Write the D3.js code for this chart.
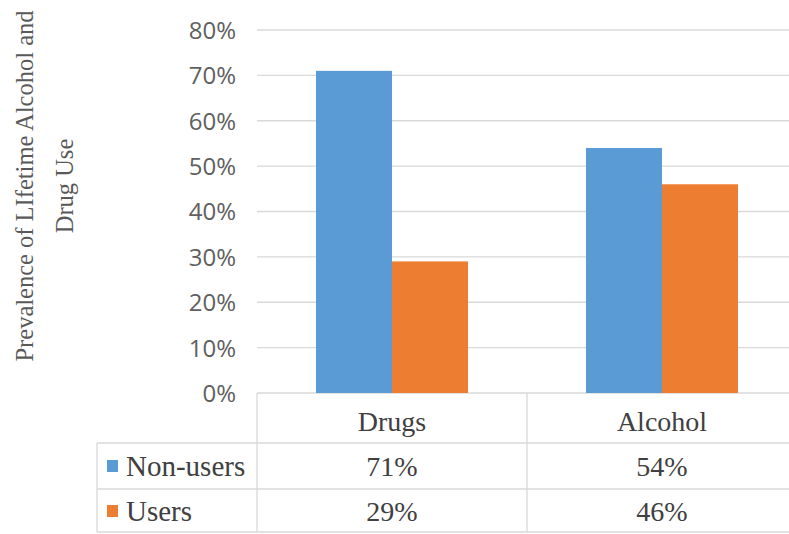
<!DOCTYPE html>
<html><head><meta charset="utf-8">
<script src="https://cdn.jsdelivr.net/npm/d3@7"></script>
<style>body{margin:0;background:#fff;}svg{display:block;}
text.serif{font-family:"Liberation Serif","Times New Roman",serif;}
text.sans{font-family:"Open Sans",sans-serif;}
</style>
</head><body>
<svg id="c" width="789" height="534"></svg>
<script>
const categories = ["Drugs", "Alcohol"];
const seriesNames = ["Non-users", "Users"];
const nonUsers = [71, 54];
const users = [29, 46];
const yTicks = [0, 10, 20, 30, 40, 50, 60, 70, 80];
const yTitle = ["Prevalence of LIfetime Alcohol and", "Drug Use"];
const colors = ["#5b9bd5", "#ed7d31"];
const series = [nonUsers, users];

(function () {
const svg = d3.select("#c");
const pLeft = 257, pRight = 797, pTop = 30, pBottom = 393;
const x0 = d3.scaleBand().domain(categories).range([pLeft, pRight]).padding(0);
const x1 = d3.scaleBand().domain(seriesNames).range([0, x0.bandwidth()]).paddingInner(0).paddingOuter(0.776);
const y = d3.scaleLinear().domain([0, 80]).range([pBottom, pTop]);

const grid = "#d9d9d9";
svg.append("g").selectAll("line").data(yTicks).join("line")
  .attr("x1", pLeft).attr("x2", 789).attr("y1", d => y(d)).attr("y2", d => y(d))
  .attr("stroke", grid).attr("stroke-width", 1.3);

const yAxis = d3.axisLeft(y).tickValues(yTicks).tickFormat(d => d + "%").tickSize(0).tickPadding(0);
const ga = svg.append("g").attr("transform", `translate(236,0)`).call(yAxis);
ga.attr("font-family", null).attr("font-size", null);
ga.select(".domain").remove();
ga.selectAll("text").attr("class", "sans").style("font-size", "24px").attr("fill", "#606060").attr("dy", "0.35em");

categories.forEach((c, ci) => {
  seriesNames.forEach((s, si) => {
    svg.append("rect")
      .attr("x", x0(c) + x1(s)).attr("width", x1.bandwidth())
      .attr("y", y(series[si][ci])).attr("height", y(0) - y(series[si][ci]))
      .attr("fill", colors[si]);
  });
});

const tl = svg.append("g").attr("stroke", grid).attr("stroke-width", 1.3);
const rowTop = 443, rowMid = 489, rowBot = 532, legLeft = 97;
[rowTop, rowMid, rowBot].forEach(yy => {
  tl.append("line").attr("x1", legLeft).attr("x2", 789).attr("y1", yy).attr("y2", yy);
});
tl.append("line").attr("x1", legLeft).attr("x2", legLeft).attr("y1", rowTop).attr("y2", rowBot);
categories.forEach(c => {
  tl.append("line").attr("x1", x0(c)).attr("x2", x0(c)).attr("y1", pBottom).attr("y2", rowBot);
});

const tcol = "#404040";
const tg2 = svg.append("g").attr("font-family", "Liberation Serif").attr("fill", tcol);
tg2.selectAll("text.cat").data(categories).join("text")
  .attr("class", "serif")
  .attr("x", d => x0(d) + x0.bandwidth() / 2).attr("y", 431)
  .attr("text-anchor", "middle").style("font-size", "28px")
  .text(d => d);

const rowBase = [476, 521];
const rowData = seriesNames.map((s, si) => ({ s, si }));
tg2.selectAll("rect.sw").data(rowData).join("rect")
  .attr("x", 107).attr("y", d => rowBase[d.si] - 16).attr("width", 11).attr("height", 12)
  .attr("fill", d => colors[d.si]);
tg2.selectAll("text.lab").data(rowData).join("text")
  .attr("class", "serif")
  .attr("x", 126).attr("y", d => rowBase[d.si])
  .style("font-size", "29px")
  .text(d => d.s);
const cellData = [];
seriesNames.forEach((s, si) => categories.forEach((c, ci) => cellData.push({ c, si, v: series[si][ci] })));
tg2.selectAll("text.cell").data(cellData).join("text")
  .attr("class", "serif")
  .attr("x", d => x0(d.c) + x0.bandwidth() / 2).attr("y", d => rowBase[d.si])
  .attr("text-anchor", "middle").style("font-size", "28px")
  .text(d => d.v + "%");

const tg = svg.append("g").attr("transform", "translate(0,186) rotate(-90)");
tg.selectAll("text").data(yTitle).join("text")
  .attr("class", "serif")
  .attr("x", 0).attr("y", (d, i) => 33 + i * 40)
  .attr("text-anchor", "middle").style("font-size", "24.5px").attr("fill", "#595959")
  .text(d => d);
})();
</script>
</body></html>
